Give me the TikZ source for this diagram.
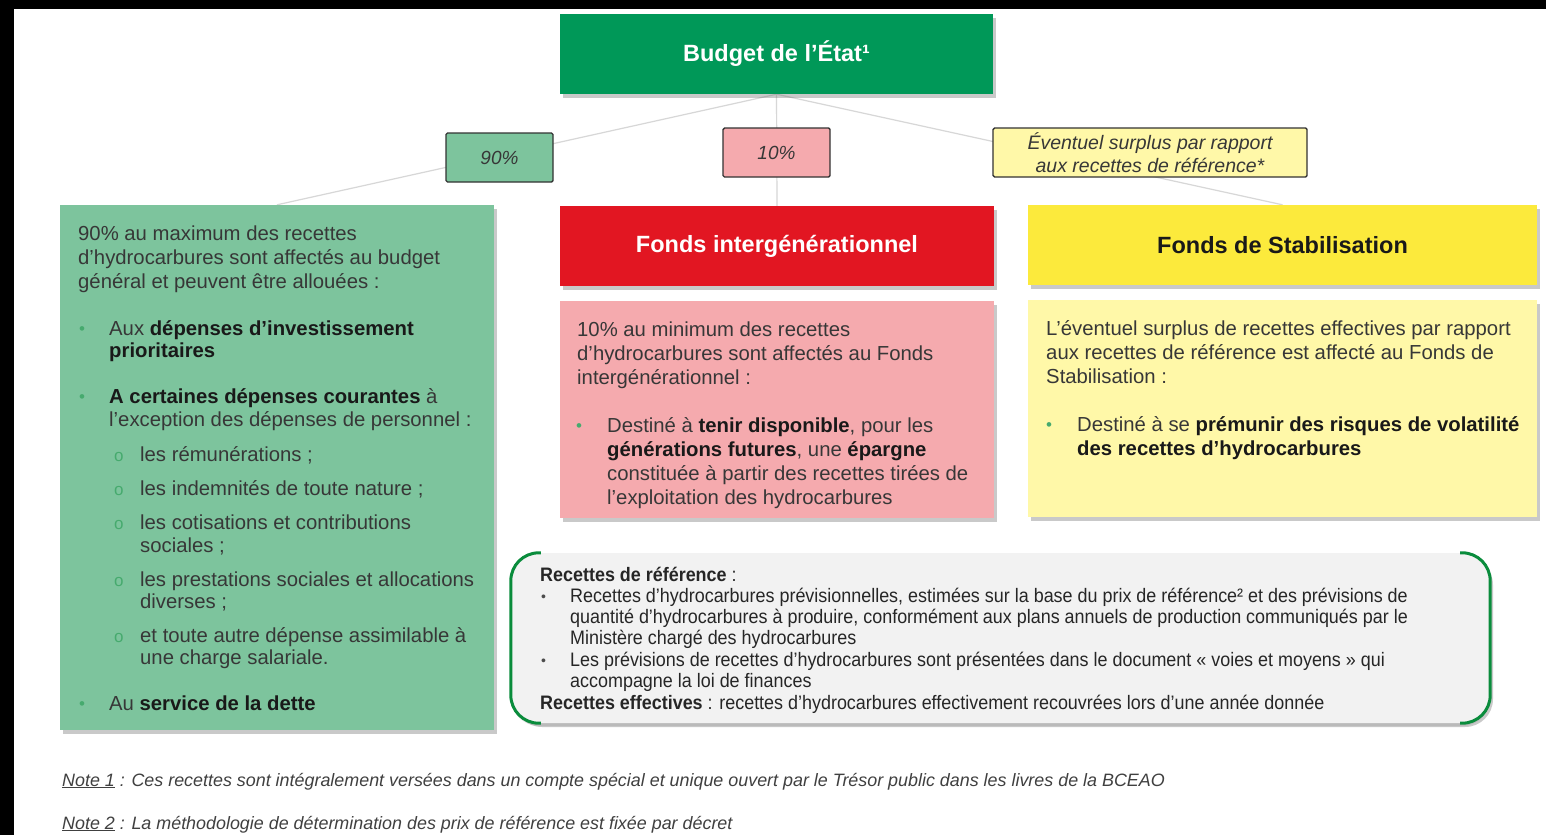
\documentclass[tikz,border=0pt]{standalone}
\usepackage{fontspec}
\setmainfont{Liberation Sans}
\newfontfamily\narrowfont[FakeStretch=0.92]{Liberation Sans}
\usetikzlibrary{shadows,backgrounds}
\definecolor{budgetgreen}{RGB}{0,152,88}
\definecolor{lgreen}{RGB}{125,196,157}
\definecolor{lpink}{RGB}{245,170,174}
\definecolor{fred}{RGB}{226,22,34}
\definecolor{fyellow}{RGB}{252,234,60}
\definecolor{lyellow}{RGB}{255,248,168}
\definecolor{lgray}{RGB}{242,242,242}
\definecolor{bgreen}{RGB}{10,140,60}
\definecolor{txtgray}{RGB}{55,55,55}
\definecolor{boldtxt}{RGB}{25,25,25}
\definecolor{bulgreen}{RGB}{70,170,110}
\definecolor{conngray}{RGB}{215,215,215}
\newcommand\bfx[1]{\textbf{\color{boldtxt}#1}}
\tikzset{
  shad/.style={drop shadow={shadow xshift=3pt,shadow yshift=-4pt,opacity=0.35,fill=black!60}},
  box/.style={draw=none,inner sep=0pt,shad},
  pct/.style={draw=black!80,line width=1.4pt,rounded corners=1.5pt,inner sep=0pt,text=txtgray,
    font=\fontsize{19}{22}\selectfont\itshape},
  conn/.style={draw=conngray,line width=1.2pt},
  txt/.style={anchor=base west,inner sep=0pt,text=txtgray,font=\fontsize{20.3}{24}\selectfont},
  sml/.style={anchor=base west,inner sep=0pt,text=black!85,font=\narrowfont\fontsize{19.5}{21}\selectfont},
  note/.style={anchor=base west,inner sep=0pt,text=black!75,font=\fontsize{17.9}{21}\selectfont\itshape},
  bul/.style={anchor=base west,inner sep=0pt,text=bulgreen,font=\fontsize{17}{18}\selectfont},
  sbul/.style={anchor=base west,inner sep=0pt,text=bulgreen,font=\fontsize{17}{20}\selectfont},
  bbul/.style={anchor=base west,inner sep=0pt,text=black!70,font=\fontsize{14}{16}\selectfont},
}
\begin{document}
\begin{tikzpicture}[x=1pt,y=-1pt]
\useasboundingbox (0,0) rectangle (1546,835);
% boxes
\node[box,fill=budgetgreen,minimum width=433pt,minimum height=80pt,text=white,
  font=\fontsize{23.5}{26}\selectfont\bfseries] (budget) at (776.5,54) {Budget de l’État¹};
\node[pct,fill=lgreen,minimum width=107pt,minimum height=49pt] (p90) at (499.5,157.5) {90\%};
\node[pct,fill=lpink,minimum width=107pt,minimum height=49pt] (p10) at (776.5,152.5) {10\%};
\node[pct,fill=lyellow,minimum width=314pt,minimum height=49pt,align=center,
  font=\fontsize{19.5}{23.5}\selectfont\itshape] (psur) at (1150,152.5) {Éventuel surplus par rapport\\aux recettes de référence*};
\node[box,fill=lgreen,minimum width=434pt,minimum height=525pt] (lbox) at (277,467.5) {};
\node[box,fill=fred,minimum width=434pt,minimum height=80pt,text=white,
  font=\fontsize{23.5}{26}\selectfont\bfseries] (mhead) at (777,246) {Fonds intergénérationnel};
\node[box,fill=lpink,minimum width=434pt,minimum height=217pt] (mbody) at (777,409.5) {};
\node[box,fill=fyellow,minimum width=509pt,minimum height=80pt,text=boldtxt,
  font=\fontsize{23.5}{26}\selectfont\bfseries] (rhead) at (1282.5,245) {Fonds de Stabilisation};
\node[box,fill=lyellow,minimum width=509pt,minimum height=217pt] (rbody) at (1282.5,408.5) {};
\node[box,fill=lgray,rounded corners=28pt,minimum width=979pt,minimum height=170pt,
  drop shadow={shadow xshift=0pt,shadow yshift=-3pt,opacity=0.2,fill=black!50}] (bbox) at (1000.5,638) {};
\draw[bgreen,line width=3pt,rounded corners=28pt]
  ([xshift=30pt]bbox.north west) -- (bbox.north west) -- (bbox.south west) -- ([xshift=30pt]bbox.south west);
\draw[bgreen,line width=3pt,rounded corners=28pt]
  ([xshift=-30pt]bbox.north east) -- (bbox.north east) -- (bbox.south east) -- ([xshift=-30pt]bbox.south east);
% background and connectors
\begin{pgfonlayer}{background}
\fill[black] (0,0) rectangle (1546,835);
\fill[white] (14,9) rectangle (1546,835);
\draw[conn] (budget.south) -- (lbox.north);
\draw[conn] (budget.south) -- (mhead.north);
\draw[conn] (budget.south) -- (rhead.north);
\end{pgfonlayer}
% left box text
\node[txt] (l1) at (78,240) {90\% au maximum des recettes};
\node[txt] (l2) at (78,264) {d’hydrocarbures sont affectés au budget};
\node[txt] (l3) at (78,288) {général et peuvent être allouées :};
\node[bul] (lb1) at (79,334) {•};
\node[txt] (l4) at (109,335) {Aux \bfx{dépenses d’investissement}};
\node[txt] (l5) at (109,357) {\bfx{prioritaires}};
\node[bul] (lb2) at (79,402) {•};
\node[txt] (l6) at (109,403) {\bfx{A certaines dépenses courantes} à};
\node[txt] (l7) at (109,426) {l’exception des dépenses de personnel :};
\node[sbul] (ls1) at (114,461) {o};
\node[txt] (l8) at (140,461) {les rémunérations ;};
\node[sbul] (ls2) at (114,495) {o};
\node[txt] (l9) at (140,495) {les indemnités de toute nature ;};
\node[sbul] (ls3) at (114,529) {o};
\node[txt] (l10) at (140,529) {les cotisations et contributions};
\node[txt] (l11) at (140,552) {sociales ;};
\node[sbul] (ls4) at (114,586) {o};
\node[txt] (l12) at (140,586) {les prestations sociales et allocations};
\node[txt] (l13) at (140,608) {diverses ;};
\node[sbul] (ls5) at (114,642) {o};
\node[txt] (l14) at (140,642) {et toute autre dépense assimilable à};
\node[txt] (l15) at (140,664) {une charge salariale.};
\node[bul] (lb3) at (79,709) {•};
\node[txt] (l16) at (109,710) {Au \bfx{service de la dette}};
% middle body text
\node[txt] (m1) at (577,336) {10\% au minimum des recettes};
\node[txt] (m2) at (577,360) {d’hydrocarbures sont affectés au Fonds};
\node[txt] (m3) at (577,384) {intergénérationnel :};
\node[bul] (mb1) at (576,431) {•};
\node[txt] (m4) at (607,432) {Destiné à \bfx{tenir disponible}, pour les};
\node[txt] (m5) at (607,456) {\bfx{générations futures}, une \bfx{épargne}};
\node[txt] (m6) at (607,480) {constituée à partir des recettes tirées de};
\node[txt] (m7) at (607,504) {l’exploitation des hydrocarbures};
% right body text
\node[txt] (r1) at (1046,335) {L’éventuel surplus de recettes effectives par rapport};
\node[txt] (r2) at (1046,359) {aux recettes de référence est affecté au Fonds de};
\node[txt] (r3) at (1046,383) {Stabilisation :};
\node[bul] (rb1) at (1046,430) {•};
\node[txt] (r4) at (1077,431) {Destiné à se \bfx{prémunir des risques de volatilité}};
\node[txt] (r5) at (1077,455) {\bfx{des recettes d’hydrocarbures}};
% bottom box text
\node[sml] (b1) at (540,581) {\textbf{Recettes de référence} :};
\node[bbul] (bb1) at (541,601) {•};
\node[sml] (b2) at (570,602) {Recettes d’hydrocarbures prévisionnelles, estimées sur la base du prix de référence² et des prévisions de};
\node[sml] (b3) at (570,623) {quantité d’hydrocarbures à produire, conformément aux plans annuels de production communiqués par le};
\node[sml] (b4) at (570,644) {Ministère chargé des hydrocarbures};
\node[bbul] (bb2) at (541,665) {•};
\node[sml] (b5) at (570,666) {Les prévisions de recettes d’hydrocarbures sont présentées dans le document « voies et moyens » qui};
\node[sml] (b6) at (570,687) {accompagne la loi de finances};
\node[sml] (b7) at (540,709) {\textbf{Recettes effectives} : recettes d’hydrocarbures effectivement recouvrées lors d’une année donnée};
% notes
\node[note] (n1) at (62,786) {\underline{Note 1} : Ces recettes sont intégralement versées dans un compte spécial et unique ouvert par le Trésor public dans les livres de la BCEAO};
\node[note] (n2) at (62,829) {\underline{Note 2} : La méthodologie de détermination des prix de référence est fixée par décret};
\end{tikzpicture}
\end{document}
